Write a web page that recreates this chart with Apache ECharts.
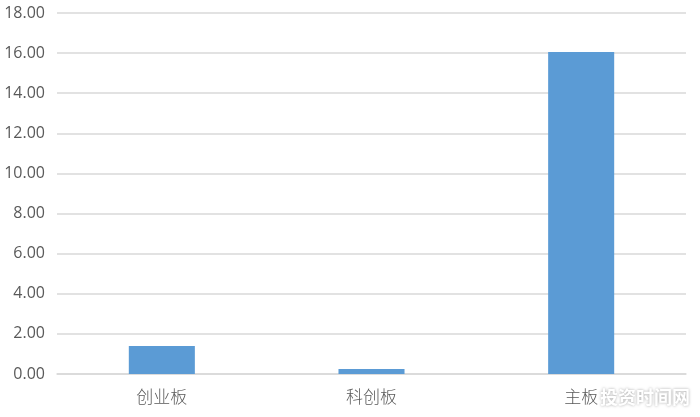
<!DOCTYPE html>
<html lang="zh-CN">

<head>
  <meta charset="UTF-8">
  <title>板块对比</title>
  <script src="https://cdn.jsdelivr.net/npm/echarts@6/dist/echarts.min.js"></script>
  <style>
    html, body { margin: 0; padding: 0; background: #fff; }
    #chart { width: 700px; height: 417px; }
  </style>
</head>

<body>
  <div id="chart"></div>

  <script>
    // 数据
    const categories = ['创业板', '科创板', '主板']
    const values = [1.40, 0.25, 16.06]

    const chart = echarts.init(document.getElementById('chart'), null, { renderer: 'canvas' })
    chart.setOption({
      animation: false,
      grid: { left: 57, right: 14, top: 13, bottom: 43 },
      xAxis: {
        type: 'category',
        data: categories,
        axisLine: { lineStyle: { color: '#d9d9d9', width: 1.5 } },
        axisTick: { show: false },
        axisLabel: {
          color: '#595959',
          fontSize: 17,
          margin: 14,
          fontFamily: 'Noto Sans CJK SC',
          fontWeight: 300
        }
      },
      yAxis: {
        type: 'value',
        min: 0,
        max: 18,
        interval: 2,
        axisLine: { show: false },
        axisTick: { show: false },
        axisLabel: {
          color: '#595959',
          fontSize: 16,
          margin: 12,
          fontFamily: 'Open Sans',
          formatter: v => v.toFixed(2)
        },
        splitLine: { lineStyle: { color: '#d9d9d9', width: 1.5 } }
      },
      series: [{
        type: 'bar',
        data: values,
        barWidth: '31.5%',
        itemStyle: { color: '#5b9bd5' }
      }],
      // 水印
      graphic: [{
        type: 'text',
        right: 10,
        top: 388,
        style: {
          text: '投资时间网',
          fill: '#ffffff',
          font: 'bold 18px "Noto Sans CJK SC"',
          textShadowColor: 'rgba(0,0,0,0.35)',
          textShadowBlur: 3
        }
      }]
    })
  </script>
</body>

</html>
